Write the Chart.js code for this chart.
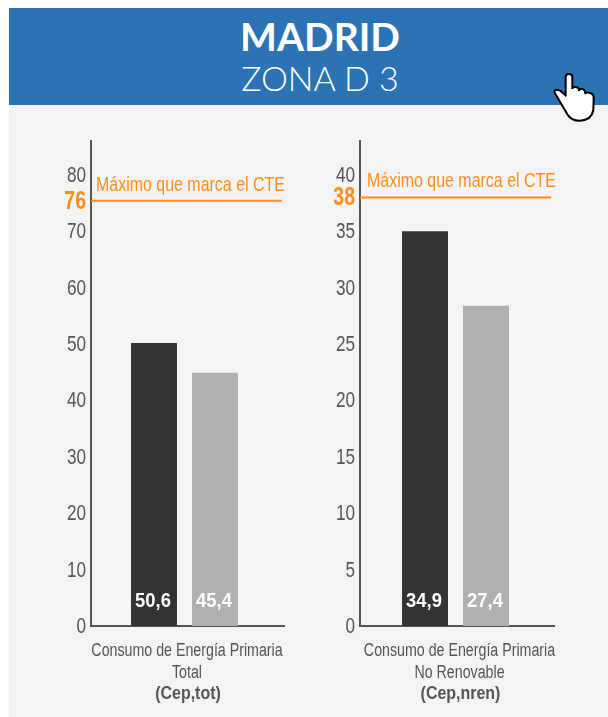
<!DOCTYPE html>
<html lang="es">
<head>
<meta charset="utf-8">
<title>Madrid zona D 3</title>
<script src="https://cdn.jsdelivr.net/npm/chart.js@4"></script>
<style>
html, body { margin: 0; background: #fff; }
#page { position: relative; width: 608px; height: 717px; overflow: hidden; }
#panel { position: absolute; left: 9px; top: 105px; width: 599px; height: 612px; background: #f4f4f4; }
#banner { position: absolute; left: 9px; top: 8px; width: 599px; height: 97px; background: #2b73b5; color: #fff; font-family: Lato, sans-serif; }
#banner div { position: absolute; left: 0; width: 622px; text-align: center; }
#city { top: 5px; font-size: 39px; font-weight: 700; line-height: 46px; }
#zone { top: 47px; font-size: 34px; font-weight: 300; line-height: 46px; }
canvas { position: absolute; top: 120px; }
#left { left: 20px; }
#right { left: 290px; }
#hand { position: absolute; left: 530px; top: 55px; }
</style>
</head>
<body>
<div id="page">
  <div id="panel"></div>
  <div id="banner"><div id="city">MADRID</div><div id="zone">ZONA D 3</div></div>
  <canvas id="left" width="285" height="590"></canvas>
  <canvas id="right" width="285" height="590"></canvas>
  <svg id="hand" width="78" height="80" viewBox="0 0 234 240">
    <path d="M107 95 L107 66 Q107 57 117 57 Q127 57 127 66 L127 100 Q130 95 138 96 Q147 97 147 106 Q152 100 158 102 Q165 104 166 115 Q172 110 181 114 Q192 118 191 130 L190 165 Q185 195 150 197 Q125 198 112 178 L75 115 Q70 105 80 104 Q92 104 107 122 Z" fill="#fff" stroke="#000" stroke-width="6" stroke-linejoin="round"/>
  </svg>
</div>

<script>
const SANS = '"Liberation Sans", sans-serif';
const ORANGE = '#ff8c1a';
const GREY = '#555555';

// ── Datos ──
// Las barras se leen sobre el eje dibujado; las etiquetas son las impresas en la imagen
const barColors = ['#333333', '#b0b0b0'];

const totalHeights = [50.2, 44.9];
const totalLabels = ['50,6', '45,4'];
const totalLimit = 75.4;
const totalLimitLabel = '76';
const totalTicks = [0, 10, 20, 30, 40, 50, 60, 70, 80];
const totalCaption = ['Consumo de Energía Primaria', 'Total', '(Cep,tot)'];

const nrenHeights = [35.0, 28.4];
const nrenLabels = ['34,9', '27,4'];
const nrenLimit = 38;
const nrenLimitLabel = '38';
const nrenTicks = [0, 5, 10, 15, 20, 25, 30, 35, 40];
const nrenCaption = ['Consumo de Energía Primaria', 'No Renovable', '(Cep,nren)'];

const limitText = 'Máximo que marca el CTE';

// No hay fuente estrecha instalada: se comprime la letra en horizontal
function narrowText(c, text, x, y, sx) {
    c.save();
    c.translate(x, y);
    c.scale(sx, 1);
    c.fillText(text, 0, 0);
    c.restore();
}

// ── Textos sobre el canvas ──
const textPlugin = {
    id: 'texts',
    afterDatasetsDraw(chart, args, o) {
        const c = chart.ctx, area = chart.chartArea, y = chart.scales.y;
        c.save();
        c.textBaseline = 'middle';

        // valores dentro de las barras
        c.font = 'bold 20px ' + SANS;
        c.fillStyle = '#fff';
        c.textAlign = 'center';
        chart.getDatasetMeta(0).data.forEach(function (bar, i) {
            narrowText(c, o.labels[i], bar.x - 1, area.bottom - 25, 0.92);
        });

        // rótulo de la línea del CTE
        c.font = '21px ' + SANS;
        c.fillStyle = ORANGE;
        c.textAlign = 'left';
        narrowText(c, limitText, area.left + o.limitDx, y.getPixelForValue(o.limit) - 16, 0.76);

        // pie del gráfico
        c.font = '18px ' + SANS;
        c.fillStyle = GREY;
        c.textAlign = 'center';
        const cx = area.left + o.captionDx;
        narrowText(c, o.caption[0], cx, area.bottom + 25, 0.79);
        narrowText(c, o.caption[1], cx, area.bottom + 47, 0.79);
        c.font = 'bold 19px ' + SANS;
        narrowText(c, o.caption[2], cx + 1, area.bottom + 68, 0.84);
        c.restore();
    }
};

function initPanel(canvasId, heights, labels, limit, limitLabel, ticks, caption, yMax, axisWidth, xMin, xMax, lineEnd, texts) {
    const isLimit = ctx => !!ctx.tick && ctx.tick.value === limit;
    new Chart(document.getElementById(canvasId), {
        data: {
            datasets: [
                {
                    type: 'bar',
                    xAxisID: 'x',
                    data: heights.map((v, i) => ({ x: i, y: v })),
                    backgroundColor: barColors,
                    grouped: false,
                    barPercentage: 46 / 61,
                    categoryPercentage: 1
                },
                {
                    type: 'line',
                    xAxisID: 'xLine',
                    data: [{ x: 0, y: limit }, { x: lineEnd, y: limit }],
                    borderColor: ORANGE,
                    borderWidth: 2,
                    pointRadius: 0
                }
            ]
        },
        options: {
            responsive: false,
            animation: false,
            events: [],
            layout: { padding: { top: 21, right: 21, bottom: 84, left: 0 } },
            plugins: {
                legend: { display: false },
                tooltip: { enabled: false },
                texts: Object.assign({ labels: labels, limit: limit, caption: caption }, texts)
            },
            scales: {
                x: {
                    type: 'linear',
                    offset: false,
                    min: xMin,
                    max: xMax,
                    grid: { display: false, offset: false },
                    border: { color: GREY, width: 2 },
                    ticks: { display: false },
                    afterBuildTicks(axis) {
                        axis.ticks = heights.map((v, i) => ({ value: i }));
                    },
                    afterFit(axis) { axis.height = 0; }
                },
                xLine: { type: 'linear', offset: false, min: 0, max: 1, display: false },
                y: {
                    min: 0,
                    max: yMax,
                    grid: { display: false, drawTicks: false },
                    border: { color: GREY, width: 2 },
                    afterBuildTicks(axis) {
                        axis.ticks = ticks.concat(limit).map(v => ({ value: v }));
                    },
                    afterFit(axis) { axis.width = axisWidth; },
                    // etiquetas del eje comprimidas contra su borde derecho
                    afterUpdate(axis) {
                        if (axis.drawLabelsOrig) return;
                        axis.drawLabelsOrig = axis.drawLabels;
                        axis.drawLabels = function (area) {
                            const c = axis.ctx, edge = axis.right - 5;
                            c.save();
                            c.translate(edge, 1);
                            c.scale(0.78, 1);
                            c.translate(-edge, 0);
                            axis.drawLabelsOrig(area);
                            c.restore();
                        };
                    },
                    ticks: {
                        autoSkip: false,
                        padding: 5,
                        color: ctx => isLimit(ctx) ? ORANGE : GREY,
                        font: ctx => isLimit(ctx)
                            ? { family: SANS, size: 25, weight: 'bold' }
                            : { family: SANS, size: 22 },
                        callback: v => v === limit ? limitLabel : String(v)
                    }
                }
            }
        },
        plugins: [textPlugin]
    });
}

initPanel('left', totalHeights, totalLabels, totalLimit, totalLimitLabel, totalTicks, totalCaption,
    86, 71, -1.033, 2.131, 0.99, { limitDx: 5, captionDx: 96 });
initPanel('right', nrenHeights, nrenLabels, nrenLimit, nrenLimitLabel, nrenTicks, nrenCaption,
    43, 70, -1.066, 2.115, 0.985, { limitDx: 7, captionDx: 99.5 });
</script>
</body>
</html>
